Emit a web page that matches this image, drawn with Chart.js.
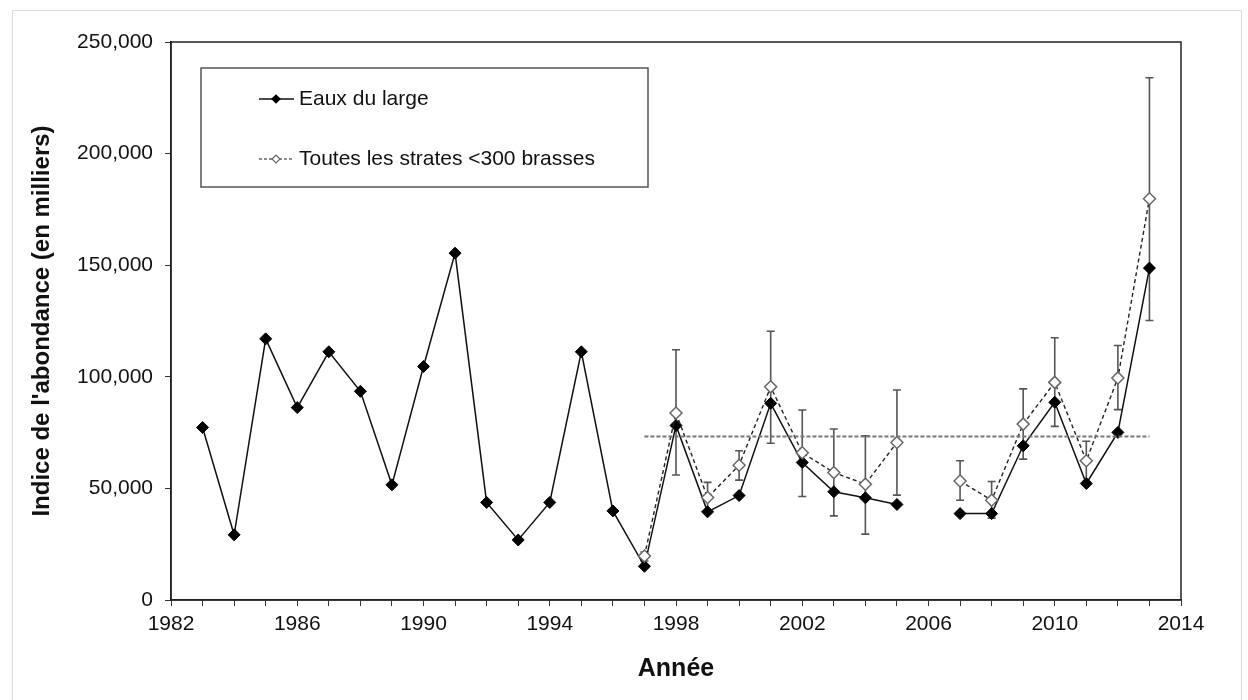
<!DOCTYPE html>
<html lang="fr">
<head>
<meta charset="UTF-8">
<title>Indice de l'abondance</title>
<script src="https://cdn.jsdelivr.net/npm/chart.js"></script>
<style>
    body { margin: 0; background: #fff; }
    .frame {
        position: absolute; left: 12px; top: 10px;
        width: 1228px; height: 720px;
        border: 1px solid #dcdcdc;
    }
    .wrap { position: absolute; left: 0; top: 0; width: 1248px; height: 700px; }
</style>
</head>
<body>
<div class="frame"></div>
<div class="wrap"><canvas id="chart" width="1248" height="700"></canvas></div>
<script>
// années et valeurs (en milliers)
const years = [1983, 1984, 1985, 1986, 1987, 1988, 1989, 1990, 1991, 1992, 1993, 1994, 1995, 1996,
    1997, 1998, 1999, 2000, 2001, 2002, 2003, 2004, 2005, 2006, 2007, 2008, 2009, 2010, 2011, 2012, 2013];
const eauxDuLarge = [77300, 29200, 117000, 86200, 111200, 93500, 51600, 104600, 155400, 43700, 26900, 43700, 111200, 39900,
    15100, 78200, 39500, 46800, 88100, 61600, 48500, 45800, 42800, null, 38700, 38700, 69100, 88600, 52200, 75100, 148700];

const yearsStrates = [1997, 1998, 1999, 2000, 2001, 2002, 2003, 2004, 2005, 2006, 2007, 2008, 2009, 2010, 2011, 2012, 2013];
const toutesStrates = [19700, 83800, 45900, 60400, 95500, 66000, 57100, 51900, 70600, null, 53300, 44700, 78800, 97500, 62400, 99500, 179800];
const errLow  = [17500, 56000, 39000, 53700, 70200, 46400, 37700, 29500, 47000, null, 44700, 36700, 63100, 77800, 53100, 85300, 125200];
const errHigh = [21500, 112100, 52700, 66900, 120400, 85100, 76600, 73600, 94100, null, 62400, 53100, 94600, 117500, 71100, 114000, 234000];

// moyenne de la série
const meanYears = [1997, 2013];
const meanValue = 73200;

const FONT = "'Liberation Sans', Arial, sans-serif";

const errorBars = {
    id: 'errorBars',
    beforeDatasetsDraw(chart) {
        const {ctx, scales: {x, y}} = chart;
        ctx.save();
        ctx.strokeStyle = '#555';
        ctx.lineWidth = 1.6;
        yearsStrates.forEach((yr, i) => {
            if (errLow[i] == null) return;
            const px = x.getPixelForValue(yr);
            const y1 = y.getPixelForValue(errLow[i]);
            const y2 = y.getPixelForValue(errHigh[i]);
            ctx.beginPath();
            ctx.moveTo(px, y1); ctx.lineTo(px, y2);
            ctx.moveTo(px - 4, y1); ctx.lineTo(px + 4, y1);
            ctx.moveTo(px - 4, y2); ctx.lineTo(px + 4, y2);
            ctx.stroke();
        });
        ctx.restore();
    }
};

const boxAndLegend = {
    id: 'boxAndLegend',
    afterDraw(chart) {
        const {ctx, chartArea: a} = chart;
        ctx.save();
        // cadre du graphique
        ctx.strokeStyle = '#222';
        ctx.lineWidth = 1.5;
        ctx.strokeRect(a.left, a.top, a.right - a.left, a.bottom - a.top);

        // légende
        const lx = a.left + 30, ly = a.top + 26;
        ctx.strokeStyle = '#555';
        ctx.lineWidth = 1.5;
        ctx.fillStyle = '#fff';
        ctx.fillRect(lx, ly, 447, 119);
        ctx.strokeRect(lx, ly, 447, 119);

        const items = [
            {text: 'Eaux du large', y: ly + 31, dash: [], color: '#111', fill: '#000', stroke: '#000'},
            {text: 'Toutes les strates <300 brasses', y: ly + 91, dash: [3, 2], color: '#666', fill: '#fff', stroke: '#666'}
        ];
        items.forEach(it => {
            ctx.setLineDash(it.dash);
            ctx.strokeStyle = it.color;
            ctx.lineWidth = 1.3;
            ctx.beginPath();
            ctx.moveTo(lx + 58, it.y); ctx.lineTo(lx + 93, it.y);
            ctx.stroke();
            ctx.setLineDash([]);
            const cx = lx + 75, r = 4;
            ctx.beginPath();
            ctx.moveTo(cx - r, it.y); ctx.lineTo(cx, it.y - r);
            ctx.lineTo(cx + r, it.y); ctx.lineTo(cx, it.y + r);
            ctx.closePath();
            ctx.fillStyle = it.fill; ctx.fill();
            ctx.strokeStyle = it.stroke; ctx.lineWidth = 1.2; ctx.stroke();
            ctx.fillStyle = '#111';
            ctx.font = '21px ' + FONT;
            ctx.textBaseline = 'middle';
            ctx.textAlign = 'left';
            ctx.fillText(it.text, lx + 98, it.y);
        });
        ctx.restore();
    }
};

new Chart(document.getElementById('chart'), {
    type: 'line',
    data: {
        datasets: [
            {
                label: 'Moyenne',
                data: meanYears.map(yr => ({x: yr, y: meanValue})),
                borderColor: '#777',
                borderWidth: 2,
                borderDash: [4, 2],
                pointRadius: 0
            },
            {
                label: 'Toutes les strates <300 brasses',
                data: yearsStrates.map((yr, i) => ({x: yr, y: toutesStrates[i]})),
                borderColor: '#222',
                borderWidth: 1.4,
                borderDash: [4, 3],
                pointStyle: 'rectRot',
                pointRadius: 6,
                pointBackgroundColor: '#fff',
                pointBorderColor: '#666',
                pointBorderWidth: 1.5,
                spanGaps: false
            },
            {
                label: 'Eaux du large',
                data: years.map((yr, i) => ({x: yr, y: eauxDuLarge[i]})),
                borderColor: '#111',
                borderWidth: 1.5,
                pointStyle: 'rectRot',
                pointRadius: 6,
                pointBackgroundColor: '#000',
                pointBorderColor: '#000',
                pointBorderWidth: 1,
                spanGaps: false
            }
        ]
    },
    options: {
        responsive: false,
        animation: false,
        layout: { padding: { top: 42, right: 67, left: 0, bottom: 0 } },
        plugins: { legend: { display: false }, tooltip: { enabled: false } },
        scales: {
            x: {
                type: 'linear',
                min: 1982,
                max: 2014,
                afterFit: s => { s.height = 100; },
                border: { color: '#222', width: 1.5 },
                grid: { drawOnChartArea: false, drawTicks: true, tickLength: 6, color: '#333' },
                ticks: {
                    stepSize: 1,
                    autoSkip: false,
                    maxRotation: 0,
                    padding: 6,
                    color: '#111',
                    font: { family: FONT, size: 21 },
                    callback: v => ((v - 1982) % 4 === 0 ? String(v) : '')
                },
                title: {
                    display: true,
                    text: 'Année',
                    color: '#111',
                    font: { family: FONT, size: 25, weight: 'bold', lineHeight: 1 },
                    padding: { top: 0, bottom: 18 }
                }
            },
            y: {
                min: 0,
                max: 250000,
                afterFit: s => { s.width = 171; },
                border: { color: '#222', width: 1.5 },
                grid: { drawOnChartArea: false, drawTicks: true, tickLength: 6, color: '#333' },
                ticks: {
                    stepSize: 50000,
                    padding: 12,
                    color: '#111',
                    font: { family: FONT, size: 21 },
                    callback: v => v.toLocaleString('en-US')
                },
                title: {
                    display: true,
                    text: "Indice de l'abondance (en milliers)",
                    color: '#111',
                    font: { family: FONT, size: 24, weight: 'bold', lineHeight: 1 },
                    padding: { top: 30, bottom: 0 }
                }
            }
        }
    },
    plugins: [errorBars, boxAndLegend]
});
</script>
</body>
</html>
